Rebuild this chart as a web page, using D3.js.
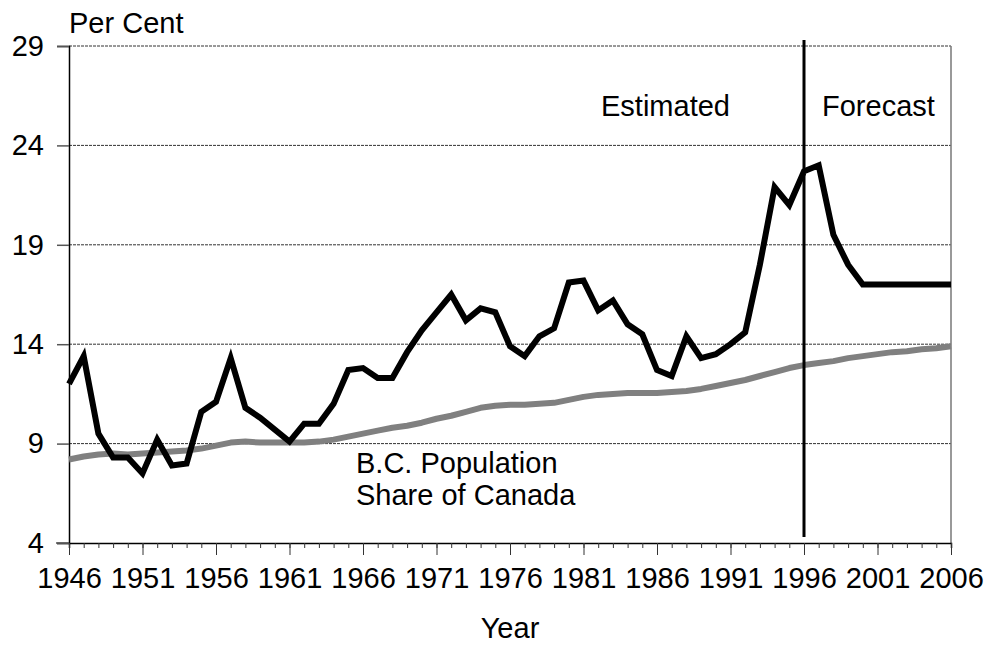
<!DOCTYPE html>
<html>
<head>
<meta charset="utf-8">
<script src="https://cdn.jsdelivr.net/npm/d3@7"></script>
<style>
  body { margin: 0; background: #fff; }
  svg { font-family: "Liberation Sans", Arial, sans-serif; }
</style>
</head>
<body>
<script>
const years = d3.range(1946, 2007);

// B.C. share of Canadian net growth (black line), per cent
const growthShare = [
  12.0, 13.4, 9.5, 8.3, 8.3, 7.5, 9.2, 7.9, 8.0, 10.6,
  11.1, 13.3, 10.8, 10.3, 9.7, 9.1, 10.0, 10.0, 11.0, 12.7,
  12.8, 12.3, 12.3, 13.6, 14.7, 15.6, 16.5, 15.2, 15.8, 15.6,
  13.9, 13.4, 14.4, 14.8, 17.1, 17.2, 15.7, 16.2, 15.0, 14.5,
  12.7, 12.4, 14.4, 13.3, 13.5, 14.0, 14.6, 18.0, 21.9, 21.0,
  22.7, 23.0, 19.5, 18.0, 17.0, 17.0, 17.0, 17.0, 17.0, 17.0,
  17.0
];

// B.C. population share of Canada (grey line), per cent
const popShare = [
  8.2, 8.35, 8.45, 8.5, 8.45, 8.5, 8.55, 8.6, 8.65, 8.75,
  8.9, 9.05, 9.1, 9.05, 9.05, 9.05, 9.05, 9.1, 9.2, 9.35,
  9.5, 9.65, 9.8, 9.9, 10.05, 10.25, 10.4, 10.6, 10.8, 10.9,
  10.95, 10.95, 11.0, 11.05, 11.2, 11.35, 11.45, 11.5, 11.55, 11.55,
  11.55, 11.6, 11.65, 11.75, 11.9, 12.05, 12.2, 12.4, 12.6, 12.8,
  12.95, 13.05, 13.15, 13.3, 13.4, 13.5, 13.6, 13.65, 13.75, 13.8,
  13.9
];

const yTicks = [4, 9, 14, 19, 24, 29];
const xMajor = d3.range(1946, 2007, 5);
const splitYear = 1996;

const width = 987, height = 647;
const fontSize = 29;
const x = d3.scaleLinear().domain([1946, 2006]).range([69, 951]);
const y = d3.scaleLinear().domain([4, 29]).range([543, 46]);

const svg = d3.select("body").append("svg")
  .attr("width", width).attr("height", height);

// dashed gridlines
svg.append("g")
  .selectAll("line")
  .data(yTicks.filter((d) => d > 4))
  .join("line")
  .attr("x1", x(1946)).attr("x2", x(2006))
  .attr("y1", (d) => y(d)).attr("y2", (d) => y(d))
  .attr("stroke", "#333")
  .attr("stroke-width", 1)
  .attr("stroke-dasharray", "3,1");

// right border
svg.append("line")
  .attr("x1", x(2006)).attr("x2", x(2006))
  .attr("y1", y(29)).attr("y2", y(4))
  .attr("stroke", "#777").attr("stroke-width", 1.5);

// y axis
const yAxis = svg.append("g")
  .attr("transform", `translate(${x(1946)},0)`)
  .call(d3.axisLeft(y).tickValues(yTicks).tickSize(12).tickPadding(13).tickFormat(d3.format("d")));
yAxis.select(".domain").attr("stroke", "#000").attr("stroke-width", 1.5);
yAxis.selectAll(".tick line").attr("stroke", "#555").attr("stroke-width", 1.5);
yAxis.selectAll("text").attr("font-size", fontSize).attr("fill", "#000")
  .attr("font-family", "Liberation Sans, Arial, sans-serif");

// x axis: yearly minor ticks + 5-year major ticks
const xAxisG = svg.append("g").attr("transform", `translate(0,${y(4)})`);
xAxisG.call(d3.axisBottom(x).tickValues(years).tickSize(5).tickFormat(""));
xAxisG.selectAll(".tick line").attr("stroke", "#333").attr("stroke-width", 1);
xAxisG.select(".domain").attr("stroke", "#000").attr("stroke-width", 1.5);
const xMajorG = svg.append("g").attr("transform", `translate(0,${y(4)})`)
  .call(d3.axisBottom(x).tickValues(xMajor).tickSize(12).tickPadding(12).tickFormat(d3.format("d")));
xMajorG.select(".domain").remove();
xMajorG.selectAll(".tick line").attr("stroke", "#333").attr("stroke-width", 1);
xMajorG.selectAll("text").attr("font-size", fontSize).attr("fill", "#000")
  .attr("font-family", "Liberation Sans, Arial, sans-serif");
// extend axis line to the left under the tick
svg.append("line")
  .attr("x1", 56).attr("x2", x(1946))
  .attr("y1", y(4)).attr("y2", y(4))
  .attr("stroke", "#555").attr("stroke-width", 1.5);

const line = (vals) => d3.line()
  .x((d, i) => x(years[i]))
  .y((d) => y(d))(vals);

// population share (grey)
svg.append("path")
  .attr("d", line(popShare))
  .attr("fill", "none")
  .attr("stroke", "#808080")
  .attr("stroke-width", 6)
  .attr("stroke-linejoin", "round");

// growth share (black)
svg.append("path")
  .attr("d", line(growthShare))
  .attr("fill", "none")
  .attr("stroke", "#000")
  .attr("stroke-width", 6)
  .attr("stroke-linejoin", "miter");

// estimated / forecast split
svg.append("line")
  .attr("x1", x(splitYear)).attr("x2", x(splitYear))
  .attr("y1", 40).attr("y2", 537)
  .attr("stroke", "#000").attr("stroke-width", 3);

// labels
const txt = (t, px, py, anchor = "start") => svg.append("text")
  .attr("x", px).attr("y", py)
  .attr("text-anchor", anchor)
  .attr("font-size", fontSize)
  .attr("fill", "#000")
  .text(t);

txt("Per Cent", 69, 33);
txt("Estimated", 601, 116);
txt("Forecast", 822, 116);
txt("B.C. Population", 356, 473);
txt("Share of Canada", 356, 505);
txt("Year", x(1976), 638, "middle");
</script>
</body>
</html>
